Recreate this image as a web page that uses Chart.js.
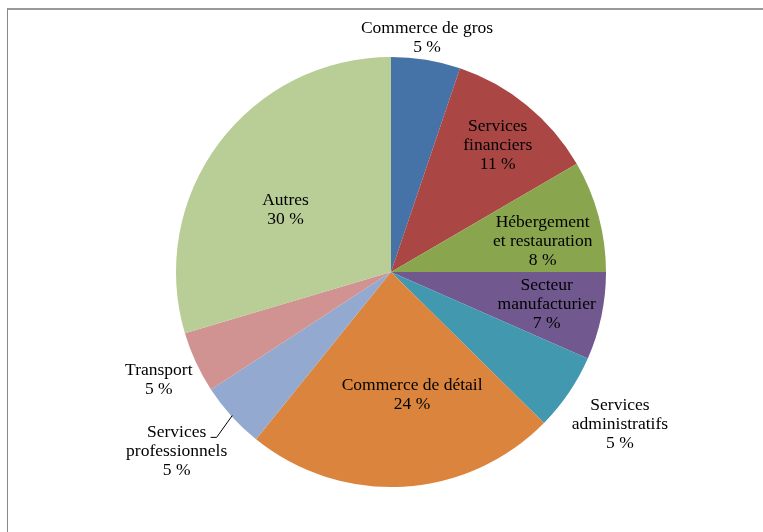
<!DOCTYPE html>
<html>
<head>
<meta charset="utf-8">
<script src="https://cdn.jsdelivr.net/npm/chart.js@4/dist/chart.umd.min.js"></script>
<style>
  body { margin: 0; background: #fff; }
  #wrap { position: relative; width: 763px; height: 532px; overflow: hidden; }
  #frame { position: absolute; left: 7px; top: 8px; width: 800px; height: 600px;
           border-left: 1px solid #888; border-top: 2px solid #999; }
  canvas { position: absolute; left: 0; top: 0; }
</style>
</head>
<body>
<div id="wrap">
  <div id="frame"></div>
  <canvas id="pieChart" width="763" height="532"></canvas>
</div>
<script>
// sectors, clockwise from 12 o'clock
var categories = ['Commerce de gros', 'Services\nfinanciers', 'Hébergement\net restauration',
    'Secteur\nmanufacturier', 'Services\nadministratifs', 'Commerce de détail',
    'Services\nprofessionnels', 'Transport', 'Autres'];
var values = [5.2, 11.4, 8.4, 6.6, 5.8, 23.4, 5.0, 4.6, 29.6];
var pctLabels = ['5 %', '11 %', '8 %', '7 %', '5 %', '24 %', '5 %', '5 %', '30 %'];
var colors = ['#4572A7', '#AA4643', '#89A54E', '#71588F', '#4198AF',
    '#DB843D', '#93A9CF', '#D19392', '#B9CD96'];

// label placement: [radius factor, angle shift in degrees]
var labelPlace = [[1.10, -0.6], [0.77, 0.9], [0.72, 3.6], [0.74, 0], [1.28, -0.5],
    [0.58, -6.5], [1.30, 2.2], [1.19, 0], [0.57, -6.1]];

var sliceLabels = {
    id: 'sliceLabels',
    afterDatasetsDraw: function(chart) {
        var ctx = chart.ctx;
        var meta = chart.getDatasetMeta(0);
        ctx.save();
        ctx.fillStyle = '#000';
        ctx.font = '17.5px "Liberation Serif", "Times New Roman", serif';
        ctx.textAlign = 'center';
        ctx.textBaseline = 'middle';
        meta.data.forEach(function(arc, i) {
            var p = arc.getProps(['x', 'y', 'startAngle', 'endAngle', 'outerRadius'], true);
            var mid = (p.startAngle + p.endAngle) / 2 + labelPlace[i][1] * Math.PI / 180;
            var r = p.outerRadius * labelPlace[i][0];
            var cx = p.x + Math.cos(mid) * r;
            var cy = p.y + Math.sin(mid) * r;
            var lines = categories[i].split('\n').concat([pctLabels[i]]);
            var lh = 19;
            var top = cy - (lines.length - 1) * lh / 2;
            lines.forEach(function(t, k) {
                ctx.fillText(t, cx, top + k * lh);
            });
            // leader line for Services professionnels
            if (i === 6) {
                var m0 = (p.startAngle + p.endAngle) / 2;
                var ax = p.x + Math.cos(m0) * (p.outerRadius - 1);
                var ay = p.y + Math.sin(m0) * (p.outerRadius - 1);
                ctx.strokeStyle = '#000';
                ctx.lineWidth = 1;
                ctx.beginPath();
                ctx.moveTo(ax, ay);
                ctx.lineTo(cx + 40, top + 5);
                ctx.lineTo(cx + 34, top + 5);
                ctx.stroke();
            }
        });
        ctx.restore();
    }
};

var ctx = document.getElementById('pieChart');
var pieChart = new Chart(ctx, {
    type: 'pie',
    data: {
        labels: categories,
        datasets: [{
            data: values,
            backgroundColor: colors,
            borderWidth: 0
        }]
    },
    options: {
        responsive: false,
        animation: false,
        layout: { padding: { top: 57, bottom: 45, left: 19, right: 0 } },
        plugins: {
            legend: { display: false },
            tooltip: { enabled: false }
        }
    },
    plugins: [sliceLabels]
});
</script>
</body>
</html>
